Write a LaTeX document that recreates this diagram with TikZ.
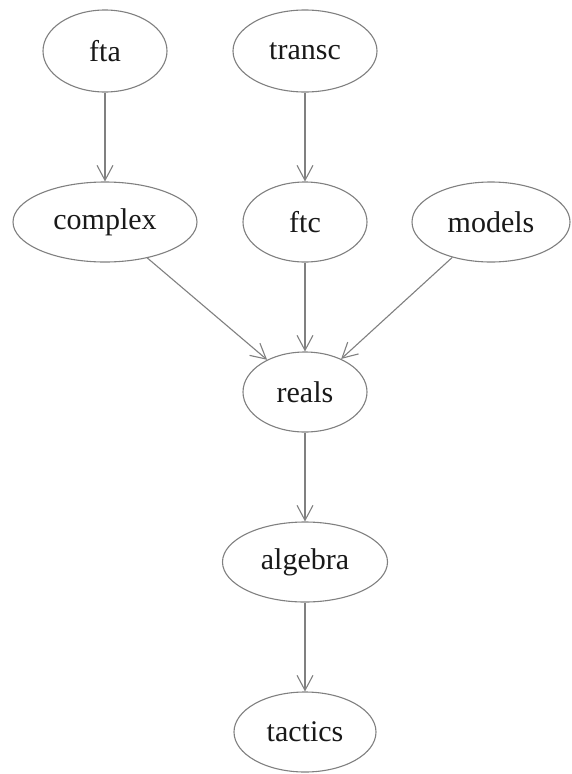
\documentclass[tikz,border=0pt]{standalone}
\usepackage{fontspec}
\setmainfont{Liberation Serif}
\usetikzlibrary{shapes.geometric,arrows.meta}
\definecolor{edgegrey}{HTML}{808080}
\begin{document}
\begin{tikzpicture}[x=1pt,y=-1pt,
  theorynode/.style={ellipse,draw=edgegrey,line width=1.1pt,inner sep=0pt,
    minimum height=80pt,font=\fontsize{30}{36}\selectfont,text=black!90},
  depedge/.style={draw=edgegrey,line width=1.1pt,
    -{Straight Barb[length=15pt,width=16pt,line width=1.1pt]}}]
\useasboundingbox[fill=white] (0,0) rectangle (572,774);
% top row
\node[theorynode,minimum width=124pt,minimum height=82pt] (fta) at (105,51) {fta};
\node[theorynode,minimum width=144pt,minimum height=82pt] (transc) at (305,51) {transc};
% second row
\node[theorynode,minimum width=184pt] (complex) at (105,222) {complex};
\node[theorynode,minimum width=124pt] (ftc) at (305,222) {ftc};
\node[theorynode,minimum width=158pt] (models) at (491,222) {models};
% central chain
\node[theorynode,minimum width=124pt] (reals) at (305,392) {reals};
\node[theorynode,minimum width=165pt] (algebra) at (305,562) {algebra};
\node[theorynode,minimum width=142pt] (tactics) at (305,732) {tactics};
% dependencies
\draw[depedge] (fta) -- (complex);
\draw[depedge] (transc) -- (ftc);
\draw[depedge] (complex) -- (reals);
\draw[depedge] (ftc) -- (reals);
\draw[depedge] (models) -- (reals);
\draw[depedge] (reals) -- (algebra);
\draw[depedge] (algebra) -- (tactics);
\end{tikzpicture}
\end{document}
